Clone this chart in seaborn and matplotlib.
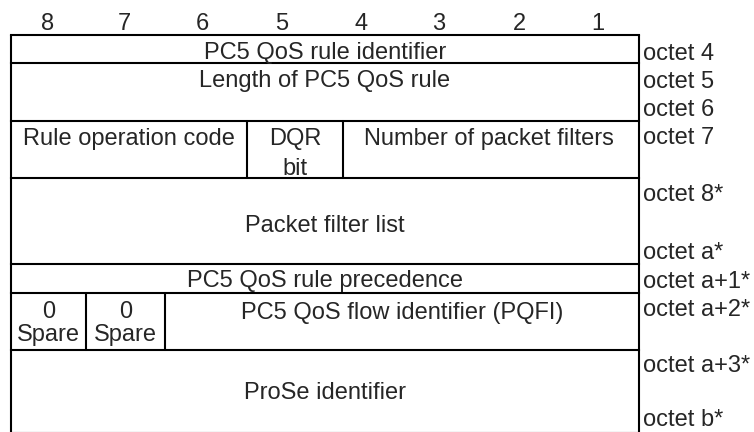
import matplotlib
matplotlib.use("Agg")
import matplotlib.pyplot as plt
import seaborn as sns

# Bit-Nummern oben
bit_labels = ["8", "7", "6", "5", "4", "3", "2", "1"]

# Feldnamen (Zeile fuer Zeile)
field_labels = [
    "PC5 QoS rule identifier",
    "Length of PC5 QoS rule",
    "Rule operation code",
    "DQR",
    "bit",
    "Number of packet filters",
    "Packet filter list",
    "PC5 QoS rule precedence",
    "0",
    "0",
    "Spare",
    "Spare",
    "PC5 QoS flow identifier (PQFI)",
    "ProSe identifier",
]

# Octet-Beschriftung rechts
octet_labels = [
    "octet 4", "octet 5", "octet 6", "octet 7", "octet 8*",
    "octet a*", "octet a+1*", "octet a+2*", "octet a+3*", "octet b*",
]

# --- Layout (Pixel) ---
W, H = 754, 432
left, right = 11, 639
row_lines = [35, 63, 121, 178, 264, 293, 350, 433]
bit_x = [48, 124, 202, 282, 361, 439, 519, 598]
bit_y = 30.5
# innere senkrechte Linien: (x, y0, y1)
inner_v = [(247, 121, 178), (343, 121, 178), (86, 293, 350), (165, 293, 350)]
# Position der Feldtexte (x-Mitte, Grundlinie)
field_pos = [
    (325, 59.5), (325, 87.5), (129, 145.5), (295, 145.5), (295, 175), (489, 145.5),
    (325, 232), (325, 287), (48.5, 318.5), (125.5, 318.5), (48.5, 340.5),
    (125.5, 340.5), (402, 318.5), (325, 399),
]
octet_x = 643
octet_y = [60.5, 88.5, 116.5, 144.5, 201, 259, 288, 316.5, 372, 426]

sns.set_theme(style="white")
plt.rcParams["font.family"] = ["Liberation Sans", "DejaVu Sans"]
fs = 17
lw = 1.5

fig = plt.figure(figsize=(W / 100, H / 100), dpi=100)
ax = fig.add_axes([0, 0, 1, 1])
ax.set_xlim(0, W)
ax.set_ylim(H, 0)
ax.axis("off")

# Rahmen und Linien
for y in row_lines:
    ax.plot([left, right], [y, y], color="black", lw=lw, solid_capstyle="projecting")
ax.plot([left, left], [row_lines[0], H + 2], color="black", lw=lw)
ax.plot([right, right], [row_lines[0], H + 2], color="black", lw=lw)
for x, y0, y1 in inner_v:
    ax.plot([x, x], [y0, y1], color="black", lw=lw)

# Texte
for lab, x in zip(bit_labels, bit_x):
    ax.text(x, bit_y, lab, ha="center", va="baseline", fontsize=fs)
for lab, (x, y) in zip(field_labels, field_pos):
    ax.text(x, y, lab, ha="center", va="baseline", fontsize=fs)
for lab, y in zip(octet_labels, octet_y):
    ax.text(octet_x, y, lab, ha="left", va="baseline", fontsize=fs)

fig.savefig("out.png", dpi=100)
